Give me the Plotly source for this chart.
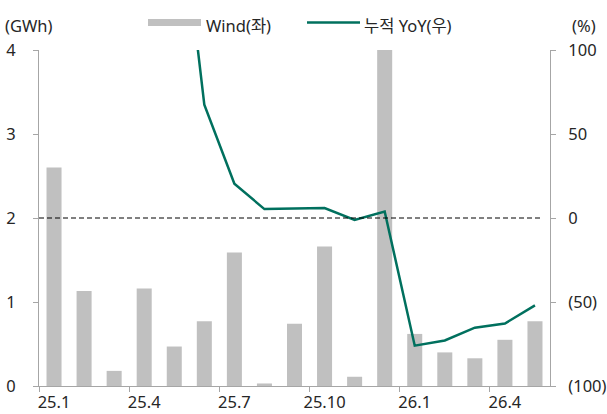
import plotly.graph_objects as go

# ---- data ----
months = ["25.1", "25.2", "25.3", "25.4", "25.5", "25.6", "25.7", "25.8", "25.9",
          "25.10", "25.11", "25.12", "26.1", "26.2", "26.3", "26.4", "26.5"]
wind_gwh = [2.60, 1.13, 0.18, 1.16, 0.47, 0.77, 1.59, 0.03, 0.74,
            1.66, 0.11, 4.00, 0.62, 0.40, 0.33, 0.55, 0.77]
cum_yoy = [None, None, None, None, 220.0, 67.4, 20.4, 5.3, 5.6,
           5.9, -1.2, 3.9, -76.0, -72.9, -65.3, -62.8, -52.0]
tick_every = 3
right_tickvals = [-100, -50, 0, 50, 100]
right_ticktext = ["(100)", "(50)", "0", "50", "100"]

# ---- layout geometry (pixels) ----
W, H = 607, 414
L, R, T, B = 39, 57, 50, 28
PW, PH = W - L - R, H - T - B


def px(x):
    return (x - L) / PW


def py(y):
    return (H - B - y) / PH


FONT = "Noto Sans, Noto Sans CJK KR, sans-serif"
TXT = "#262626"
AX = "#a6a6a6"
BAR = "#c0c0c0"
LINE = "#00705e"

xs = list(range(len(months)))

fig = go.Figure()
fig.add_trace(go.Bar(x=xs, y=wind_gwh, name="Wind(좌)", marker_color=BAR,
                     marker_line_width=0, yaxis="y", showlegend=False))
fig.add_trace(go.Scatter(x=xs, y=cum_yoy, name="누적 YoY(우)", mode="lines",
                         line=dict(color=LINE, width=2.5), yaxis="y2",
                         connectgaps=False, showlegend=False, cliponaxis=True))

fig.update_layout(
    width=W, height=H,
    margin=dict(l=L, r=R, t=T, b=B, pad=0, autoexpand=False),
    paper_bgcolor="white", plot_bgcolor="white",
    font=dict(family=FONT, size=16.5, color=TXT),
    bargap=0.5,
    showlegend=False,
    xaxis=dict(
        range=[-0.5, len(months) - 0.5], automargin=False,
        tickvals=xs[::tick_every], ticktext=months[::tick_every],
        ticks="", showgrid=False, zeroline=False,
        showline=True, linecolor=AX, linewidth=1,
        ticklabelstandoff=1,
        minor=dict(tickvals=[i - 0.5 for i in xs[::tick_every]], ticks="outside",
                   ticklen=5, tickcolor=AX, tickwidth=1, showgrid=False),
    ),
    yaxis=dict(
        range=[0, 4], dtick=1, ticks="outside", ticklen=5, tickcolor=AX,
        automargin=False,
        showline=True, linecolor=AX, linewidth=1, showgrid=False, zeroline=False,
        ticklabelstandoff=14,
    ),
    yaxis2=dict(
        range=[-100, 100], tickvals=right_tickvals, ticktext=right_ticktext,
        overlaying="y", side="right", ticks="outside", ticklen=5, tickcolor=AX,
        automargin=False,
        showline=True, linecolor=AX, linewidth=1, showgrid=False, zeroline=False,
        ticklabelstandoff=9,
    ),
)

# zero reference line on right axis
fig.add_shape(type="line", xref="paper", yref="y2", x0=0, x1=px(542), y0=0, y1=0,
              line=dict(color="black", width=1, dash="5px,3px"))

# manual legend
fig.add_shape(type="rect", xref="paper", yref="paper", x0=px(148), x1=px(201),
              y0=py(26), y1=py(19), fillcolor=BAR, line_width=0)
fig.add_annotation(xref="paper", yref="paper", x=px(204), y=py(25.5), text="Wind(좌)",
                   showarrow=False, xanchor="left", yanchor="middle")
fig.add_shape(type="line", xref="paper", yref="paper", x0=px(307), x1=px(360),
              y0=py(22.5), y1=py(22.5), line=dict(color=LINE, width=2.5))
fig.add_annotation(xref="paper", yref="paper", x=px(362), y=py(25.5), text="누적 YoY(우)",
                   showarrow=False, xanchor="left", yanchor="middle")

# axis unit labels
fig.add_annotation(xref="paper", yref="paper", x=px(3), y=py(25.5), text="(GWh)",
                   showarrow=False, xanchor="left", yanchor="middle")
fig.add_annotation(xref="paper", yref="paper", x=px(598), y=py(25.5), text="(%)",
                   showarrow=False, xanchor="right", yanchor="middle")

fig.write_html(
    "out.html",
    config={"displayModeBar": False, "staticPlot": True},
    post_script="document.body.style.margin='0px';document.body.style.padding='0px';"
                "document.body.style.overflow='hidden';",
)
